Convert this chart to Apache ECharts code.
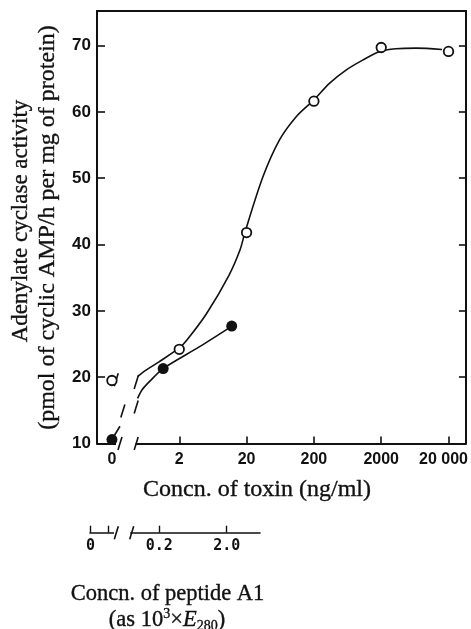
<!DOCTYPE html>
<html>
<head>
<meta charset="utf-8">
<script src="https://cdn.jsdelivr.net/npm/echarts@6/dist/echarts.min.js"></script>
<style>
html, body { margin: 0; padding: 0; background: #fff; }
#chart { width: 471px; height: 629px; }
</style>
</head>
<body>
<div id="chart"></div>
<script>
// toxin, open circles
const toxinConc = [0, 2, 20, 200, 2000, 20000]
const toxinActivity = [19.5, 24.2, 41.8, 61.6, 69.7, 69.1]
// peptide A1 (as 10^3 x E280), filled circles
const peptideConc = [0, 0.23, 2.4]
const peptideActivity = [10.6, 21.3, 27.7]
// hand-drawn curves
const toxinCurveConc = [0.48, 0.65, 1.0, 2, 2.6, 5.1, 11, 16, 19, 35, 62, 110, 200, 340, 600, 1060, 1900, 3300, 6600, 16000]
const toxinCurveActivity = [20.1, 21.1, 22.3, 24.4, 25.6, 29.6, 35.4, 39.2, 41.9, 50.2, 55.8, 59.3, 61.8, 64.3, 66.3, 67.8, 69.1, 69.5, 69.6, 69.4]
const peptideCurveConc = [0.096, 0.112, 0.146, 0.23, 0.8, 2.42]
const peptideCurveActivity = [16.8, 18.1, 19.4, 21.3, 24.6, 27.7]
// ticks
const activityTicks = [10, 20, 30, 40, 50, 60, 70]
const toxinTicks = [0, 2, 20, 200, 2000, 20000]
const toxinTickLabels = ['0', '2', '20', '200', '2000', '20 000']
const peptideTicks = [0.2, 2.0]
const peptideTickLabels = ['0.2', '2.0']

// x positions in decades, the zero column sits one decade left of 2
function pos (c) { return c === 0 ? 0 : Math.log10(c / 2) + 1 }
function pepPos (c) { return c === 0 ? 0 : Math.log10(c / 0.2) + 0.70 }

// axis-break bits, in axis units
const peptideStub = [[0, 10.6], [0.119, 12.6]]
const mainGaps = [[0.06, 0.35, 10]]
const mainSlashes = [[0.119, 10], [0.36, 10], [0.064, 19.6], [0.36, 19.2], [0.162, 14.9], [0.36, 15.5]]
const lowerZero = -0.32
const lowerMinor = -0.05
const lowerGaps = [[0.03, 0.27, 0]]
const lowerSlashes = [[0.064, 0], [0.292, 0]]

const ink = '#111'
const serif = '"Liberation Serif", "Times New Roman", serif'
const sans = '"Liberation Sans", Arial, sans-serif'

function renderSlash (params, api) {
  const p = api.coord([api.value(0), api.value(1)])
  return {
    type: 'line',
    shape: { x1: p[0] - 2, y1: p[1] + 6.5, x2: p[0] + 2, y2: p[1] - 6.5 },
    style: { stroke: ink, lineWidth: 1.6 }
  }
}
function renderGap (params, api) {
  const a = api.coord([api.value(0), api.value(2)])
  const b = api.coord([api.value(1), api.value(2)])
  return {
    type: 'rect',
    shape: { x: a[0], y: a[1] - 3, width: b[0] - a[0], height: 6 },
    style: { fill: '#fff' }
  }
}
function label (text, x, y, size, rot) {
  return {
    type: 'text',
    x: x,
    y: y,
    rotation: rot || 0,
    style: {
      text: text,
      fill: ink,
      font: size + 'px ' + serif,
      align: 'center',
      verticalAlign: 'middle',
      stroke: ink,
      lineWidth: 0.35
    }
  }
}

const lowerTickPos = [lowerZero, lowerMinor].concat(peptideTicks.map(pepPos))
const lowerLabelPos = [lowerZero].concat(peptideTicks.map(pepPos))
const lowerLabels = ['0'].concat(peptideTickLabels)

let chart = echarts.init(document.getElementById('chart'))
let sub = label('{n|(as 10}{sup|3}{n|×}{it|E}{sub|280}{n|)}', 167, 620, 22.5)
sub.style.rich = {
  n: { fontSize: 22.5, fontFamily: serif, fill: ink, lineHeight: 26 },
  sup: { fontSize: 14, fontFamily: serif, fill: ink, verticalAlign: 'top', lineHeight: 14 },
  sub: { fontSize: 14, fontFamily: serif, fill: ink, verticalAlign: 'bottom', lineHeight: 14 },
  it: { fontSize: 22.5, fontFamily: serif, fontStyle: 'italic', fill: ink, lineHeight: 26 }
}

let option = {
  animation: false,
  backgroundColor: '#fff',
  grid: [
    { left: 97, top: 11, width: 369.7, height: 432.5 },
    { left: 90, top: 522, width: 170, height: 10.7 }
  ],
  xAxis: [{
    type: 'value',
    gridIndex: 0,
    position: 'bottom',
    min: -0.222,
    max: 5.258,
    splitLine: { show: false },
    axisLine: { onZero: false, lineStyle: { color: ink, width: 2 } },
    axisTick: { inside: true, length: 7, lineStyle: { color: ink, width: 1.6 }, customValues: toxinTicks.slice(1).map(pos) },
    axisLabel: {
      customValues: toxinTicks.map(pos),
      margin: 8,
      color: ink,
      fontFamily: sans,
      fontWeight: 'bold',
      fontSize: 16,
      formatter: function (v) {
        let i = Math.round(v)
        return i === 5 ? '{last|' + toxinTickLabels[i] + '}' : toxinTickLabels[i]
      },
      rich: {
        last: { padding: [0, 10, 0, 0], color: ink, fontFamily: sans, fontWeight: 'bold', fontSize: 16 }
      }
    }
  }, {
    type: 'value',
    gridIndex: 0,
    position: 'top',
    min: -0.222,
    max: 5.258,
    splitLine: { show: false },
    axisLine: { onZero: false, lineStyle: { color: ink, width: 2 } },
    axisTick: { show: false },
    axisLabel: { show: false }
  }, {
    type: 'value',
    gridIndex: 1,
    position: 'bottom',
    min: -0.326,
    max: 2.194,
    splitLine: { show: false },
    axisLine: { onZero: false, lineStyle: { color: ink, width: 1.6 } },
    axisTick: { inside: true, length: 7, lineStyle: { color: ink, width: 1.4 }, customValues: lowerTickPos },
    axisLabel: {
      customValues: lowerLabelPos,
      margin: 6,
      color: ink,
      fontFamily: '"DejaVu Sans Mono", monospace',
      fontWeight: 'bold',
      fontSize: 15,
      formatter: function (v) {
        let i = lowerLabelPos.findIndex(p => Math.abs(p - v) < 1e-6)
        return i < 0 ? '' : lowerLabels[i]
      }
    }
  }],
  yAxis: [{
    type: 'value',
    gridIndex: 0,
    position: 'left',
    min: 10,
    max: 75.2,
    interval: 10,
    splitLine: { show: false },
    axisLine: { onZero: false, lineStyle: { color: ink, width: 2 } },
    axisTick: { inside: true, length: 8, lineStyle: { color: ink, width: 1.6 }, customValues: activityTicks },
    axisLabel: { customValues: activityTicks, margin: 6, color: ink, fontFamily: sans, fontWeight: 'bold', fontSize: 17 }
  }, {
    type: 'value',
    gridIndex: 0,
    position: 'right',
    min: 10,
    max: 75.2,
    interval: 10,
    splitLine: { show: false },
    axisLine: { onZero: false, lineStyle: { color: ink, width: 2 } },
    axisTick: { inside: true, length: 7, lineStyle: { color: ink, width: 1.6 }, customValues: activityTicks.slice(1) },
    axisLabel: { show: false }
  }, {
    type: 'value',
    gridIndex: 1,
    min: 0,
    max: 1,
    show: false
  }],
  series: [{
    type: 'line',
    name: 'toxin curve',
    smooth: 0.3,
    showSymbol: false,
    lineStyle: { color: ink, width: 1.6 },
    data: toxinCurveConc.map((c, i) => [pos(c), toxinCurveActivity[i]])
  }, {
    type: 'line',
    name: 'peptide curve',
    smooth: 0.3,
    showSymbol: false,
    lineStyle: { color: ink, width: 1.6 },
    data: peptideCurveConc.map((c, i) => [pepPos(c), peptideCurveActivity[i]])
  }, {
    type: 'line',
    name: 'peptide stub',
    showSymbol: false,
    lineStyle: { color: ink, width: 1.6 },
    data: peptideStub
  }, {
    type: 'custom',
    name: 'gaps',
    z: 3,
    renderItem: renderGap,
    data: mainGaps
  }, {
    type: 'custom',
    name: 'slashes',
    z: 4,
    renderItem: renderSlash,
    data: mainSlashes
  }, {
    type: 'custom',
    xAxisIndex: 2,
    yAxisIndex: 2,
    z: 3,
    renderItem: renderGap,
    data: lowerGaps
  }, {
    type: 'custom',
    xAxisIndex: 2,
    yAxisIndex: 2,
    z: 4,
    renderItem: renderSlash,
    data: lowerSlashes
  }, {
    type: 'scatter',
    name: 'Toxin',
    z: 5,
    symbolSize: 9.5,
    itemStyle: { color: '#fff', borderColor: ink, borderWidth: 1.8, opacity: 1 },
    data: toxinConc.map((c, i) => [pos(c), toxinActivity[i]])
  }, {
    type: 'scatter',
    name: 'Peptide A1',
    z: 5,
    symbolSize: 11,
    itemStyle: { color: ink, opacity: 1 },
    data: peptideConc.map((c, i) => [pepPos(c), peptideActivity[i]])
  }],
  graphic: [
    label('Adenylate cyclase activity', 21, 221, 23, Math.PI / 2),
    label('(pmol of cyclic AMP/h per mg of protein)', 47.5, 227.5, 24, Math.PI / 2),
    label('Concn. of toxin (ng/ml)', 257, 490, 24),
    label('Concn. of peptide A1', 167.5, 594, 22.5),
    sub
  ]
}
chart.setOption(option)
</script>
</body>
</html>
